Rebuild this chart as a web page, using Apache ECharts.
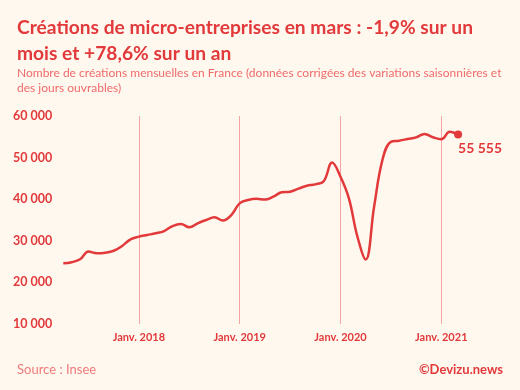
<!DOCTYPE html>
<html><head><meta charset="utf-8">
<script src="https://cdn.jsdelivr.net/npm/echarts@6/dist/echarts.min.js"></script>
<style>html,body{margin:0;padding:0;background:#fff8ef;}#c{width:520px;height:390px;}</style>
</head><body><div id="c"></div>
<script>
var months = ["2017-04","2017-05","2017-06","2017-07","2017-08","2017-09","2017-10","2017-11","2017-12",
"2018-01","2018-02","2018-03","2018-04","2018-05","2018-06","2018-07","2018-08","2018-09","2018-10","2018-11","2018-12",
"2019-01","2019-02","2019-03","2019-04","2019-05","2019-06","2019-07","2019-08","2019-09","2019-10","2019-11","2019-12",
"2020-01","2020-02","2020-03","2020-04","2020-05","2020-06","2020-07","2020-08","2020-09","2020-10","2020-11","2020-12",
"2021-01","2021-02","2021-03"];
var creations = [24600,24850,25550,27400,27000,27150,27600,28750,30350,
31000,31400,31800,32350,33550,34050,33250,34200,35000,35650,34850,36200,
39000,39800,40100,39900,40600,41650,41800,42530,43250,43570,44300,48800,
45400,40200,31100,25500,38200,49500,53800,54070,54470,54870,55700,54900,
54400,56200,55555];
var yTicks = [10000,20000,30000,40000,50000,60000];
var titleText = "Créations de micro-entreprises en mars : -1,9% sur un\nmois et +78,6% sur un an";
var subText = "Nombre de créations mensuelles en France (données corrigées des variations saisonnières et\ndes jours ouvrables)";

var red = '#e2393b';
var fmt = function(v){ return String(v).replace(/\B(?=(\d{3})+(?!\d))/g, ' '); };
var isJan = function(i, v){ return /-01$/.test(months[i]); };
var last = creations.length - 1;

var seriesData = creations.map(function(v, i){
  if (i === last) {
    return {value: v,
      label: {show: true, formatter: fmt(v), position: [4, 10.5], align: 'left', verticalAlign: 'top',
        color: red, fontSize: 14, fontWeight: 'bold', fontFamily: 'Lato'}};
  }
  return v;
});

var chart = echarts.init(document.getElementById('c'), null, {renderer: 'canvas'});
chart.setOption({
  backgroundColor: '#fff8ef',
  animation: false,
  title: [
    {text: titleText, left: 17, top: 15, padding: 0, textStyle: {fontSize: 19.2, lineHeight: 26, fontFamily: 'Lato', fontWeight: 'bold', color: red}},
    {text: subText, left: 17, top: 66, padding: 0, textStyle: {fontSize: 12, lineHeight: 15, fontFamily: 'Lato', fontWeight: 'normal', color: '#ef6b6b'}},
    {text: 'Source : Insee', left: 17, top: 363, padding: 0, textStyle: {fontSize: 13, fontFamily: 'Lato', fontWeight: 'normal', color: '#f07a7a'}},
    {text: '©Devizu.news', right: 17, top: 363, padding: 0, textStyle: {fontSize: 13, fontFamily: 'Lato', fontWeight: 'bold', color: red}}
  ],
  grid: {left: 63.3, right: 61.9, top: 116, bottom: 66},
  xAxis: {
    type: 'category', data: months, boundaryGap: false,
    axisLine: {show: false}, axisTick: {show: false},
    axisLabel: {interval: isJan, formatter: function(v){ return 'Janv. ' + v.slice(0,4); },
      color: red, fontSize: 11, fontWeight: 'bold', fontFamily: 'Lato', margin: 8},
    splitLine: {show: true, interval: isJan, lineStyle: {color: '#f5a3a3', width: 1}}
  },
  yAxis: {
    type: 'value', min: 10000, max: 60000, interval: 10000,
    axisLine: {show: false}, axisTick: {show: false}, splitLine: {show: false},
    axisLabel: {formatter: function(v){ return yTicks.indexOf(v) >= 0 ? fmt(v) : ''; },
      color: red, fontSize: 12.5, fontWeight: 'bold', fontFamily: 'Lato', margin: 11}
  },
  series: [{
    type: 'line', data: seriesData, smooth: 0.4, symbol: 'circle', showSymbol: true,
    symbolSize: function(v, p){ return p.dataIndex === last ? 8 : 0; },
    lineStyle: {color: red, width: 2.5}, itemStyle: {color: red}
  }]
});
</script></body></html>
